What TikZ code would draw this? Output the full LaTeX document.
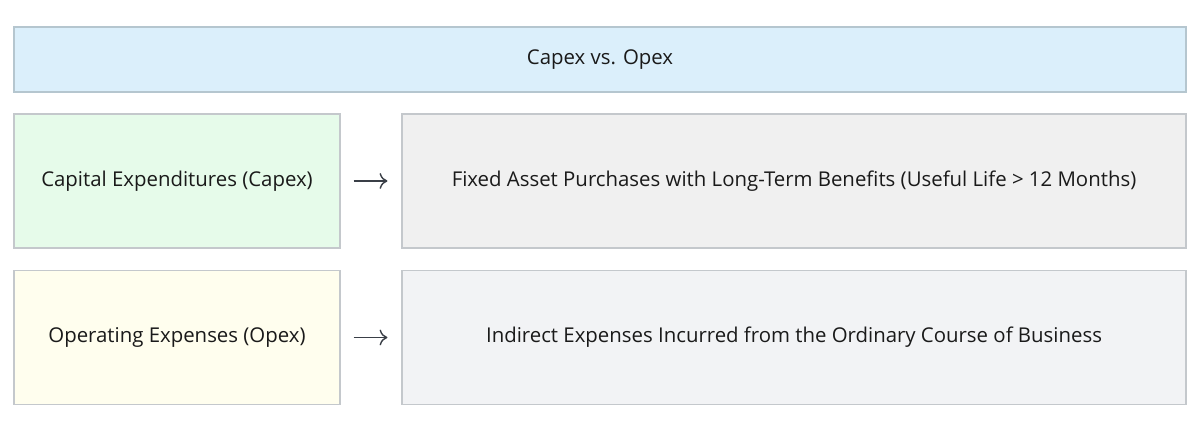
\documentclass[tikz,border=0pt]{standalone}
\usepackage{fontspec}
\setmainfont{Open Sans}
\usetikzlibrary{arrows.meta}

\definecolor{titlefill}{HTML}{DBEFFB}
\definecolor{titleline}{HTML}{B5C6CF}
\definecolor{capfill}{HTML}{E6FBEA}
\definecolor{opfill}{HTML}{FFFEEE}
\definecolor{fixfill}{HTML}{F0F0F0}
\definecolor{indfill}{HTML}{F2F3F5}
\definecolor{boxline}{HTML}{C4C8CC}
\definecolor{txt}{HTML}{1A1A1A}
\definecolor{arrowcol}{HTML}{3A3F47}

\begin{document}
\begin{tikzpicture}[
    font=\fontsize{11.6}{14}\selectfont, text=txt,
    box/.style={draw=boxline, line width=0.6pt, minimum height=2.68cm, inner sep=0pt, align=center},
    lbox/.style={box, minimum width=6.52cm},
    rbox/.style={box, minimum width=15.68cm},
    link/.style={draw=arrowcol, line width=0.8pt, -{To[length=4.5pt, width=9pt]}, shorten <=0.26cm, shorten >=0.28cm}
  ]
    \useasboundingbox (0, 0) rectangle (24, 8.76);

    \node[box, draw=titleline, fill=titlefill, minimum width=23.44cm, minimum height=1.3cm] (title) at (12, 7.57) {Capex vs. Opex};

    \node[lbox, fill=capfill] (capex) at (3.54, 5.14) {Capital Expenditures (Capex)};
    \node[rbox, fill=fixfill] (fixed) at (15.88, 5.14) {Fixed Asset Purchases with Long-Term Benefits (Useful Life > 12 Months)};

    \node[lbox, fill=opfill] (opex) at (3.54, 2.01) {Operating Expenses (Opex)};
    \node[rbox, fill=indfill] (indirect) at (15.88, 2.01) {Indirect Expenses Incurred from the Ordinary Course of Business};

    \draw[link] (capex) -- (fixed);
    \draw[link] (opex) -- (indirect);
\end{tikzpicture}
\end{document}
